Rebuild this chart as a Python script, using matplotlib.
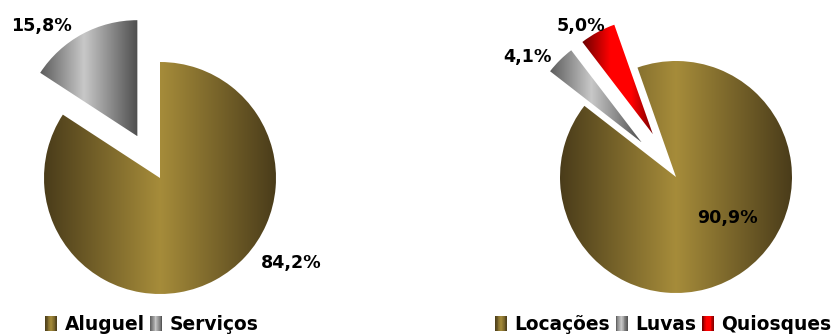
import numpy as np
import matplotlib
matplotlib.use("Agg")
import matplotlib.pyplot as plt
from matplotlib.colors import LinearSegmentedColormap
from matplotlib.legend_handler import HandlerBase
from matplotlib.patches import Rectangle

# Revenue composition (%)
left_labels = ["Aluguel", "Serviços"]
left_values = [84.2, 15.8]

right_labels = ["Locações", "Luvas", "Quiosques"]
right_values = [90.9, 4.1, 5.0]

# Gradient fills (position, colour) for each slice
GOLD = [(0.0, "#4a3c1a"), (0.5, "#a68c3a"), (1.0, "#4a3c1a")]
GREY = [(0.0, "#5c5c5c"), (0.45, "#c8c8c8"), (1.0, "#4e4e4e")]
RED = [(0.0, "#6a0000"), (0.4, "#ff0000"), (0.7, "#ff0000"), (1.0, "#7a0000")]

W, H = 838, 334
RADIUS = 116
FONT = dict(family="DejaVu Sans", weight="bold")

fig = plt.figure(figsize=(W / 100, H / 100), dpi=100)
ax = fig.add_axes([0, 0, 1, 1])


def fill_gradient(ax, wedge, stops):
    ext = wedge.get_path().get_extents()
    cmap = LinearSegmentedColormap.from_list("fill", stops)
    row = cmap(np.linspace(0, 1, 256))[None, :, :]
    im = ax.imshow(row, extent=(ext.x0, ext.x1, ext.y0, ext.y1),
                   aspect="auto", interpolation="bilinear", zorder=2)
    im.set_clip_path(wedge)


class GradientSwatch(HandlerBase):
    def __init__(self, stops, n=14):
        super().__init__()
        self.stops = stops
        self.n = n

    def create_artists(self, legend, orig_handle, xdescent, ydescent,
                       width, height, fontsize, trans):
        cmap = LinearSegmentedColormap.from_list("swatch", self.stops)
        step = width / self.n
        return [Rectangle((-xdescent + i * step, -ydescent), step * 1.05, height,
                          facecolor=cmap((i + 0.5) / self.n), edgecolor="none",
                          transform=trans)
                for i in range(self.n)]


def pct(v):
    return f"{v:.1f}%".replace(".", ",")


def draw_pie(values, labels, fills, explode, start, center, label_xy, legend_xy):
    # pie() offsets exploded wedges in data units, so scale by the radius
    wedges, _ = ax.pie(values, explode=[e * RADIUS for e in explode],
                       startangle=start, counterclock=False, radius=RADIUS,
                       center=center,
                       wedgeprops=dict(facecolor="none", linewidth=0))
    for w, f in zip(wedges, fills):
        fill_gradient(ax, w, f)
    for v, (x, y) in zip(values, label_xy):
        ax.text(x, H - y, pct(v), ha="center", va="baseline",
                fontsize=12.6, color="black", zorder=5, **FONT)
    fig.legend(wedges, labels, loc="lower left",
               bbox_to_anchor=(legend_xy[0] / W, legend_xy[1] / H),
               ncol=len(labels), frameon=False, borderpad=0, borderaxespad=0,
               handlelength=0.65, handleheight=0.8, handletextpad=0.4,
               columnspacing=0.3, prop=dict(size=13.4, **FONT),
               handler_map={w: GradientSwatch(f) for w, f in zip(wedges, fills)})


draw_pie(left_values, left_labels, [GOLD, GREY], [0.0, 0.41], 90,
         (160, H - 178), [(291, 268), (41, 31)], (45, 0))
draw_pie(right_values, right_labels, [GOLD, GREY, RED], [0.0, 0.42, 0.42], 109.4,
         (676, H - 177), [(727, 223), (527, 62), (581, 31)], (495, 0))

ax.set_aspect("auto")
ax.set_xlim(0, W)
ax.set_ylim(0, H)
ax.axis("off")

fig.savefig("out.png", dpi=100, facecolor="white")
